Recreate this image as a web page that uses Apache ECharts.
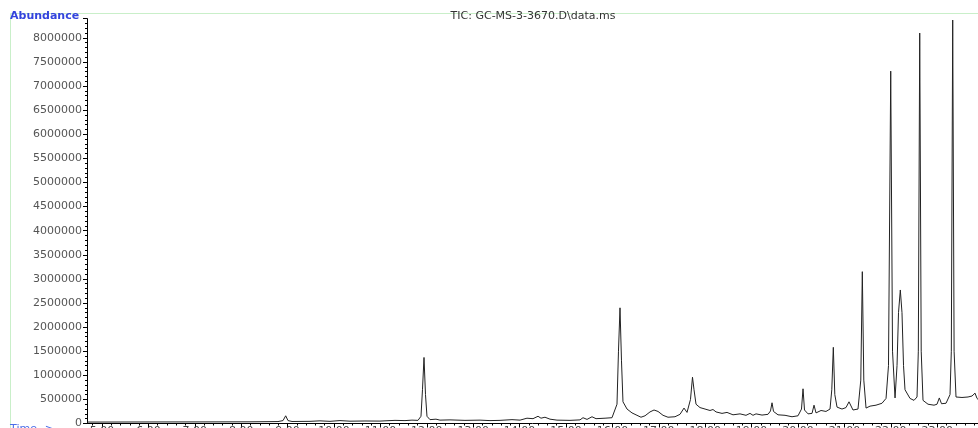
<!DOCTYPE html>
<html>
<head>
<meta charset="utf-8">
<script src="https://cdn.jsdelivr.net/npm/echarts@6/dist/echarts.min.js"></script>
<style>
  html, body { margin: 0; padding: 0; background: #fff; }
  #chart { width: 978px; height: 428px; }
</style>
</head>
<body>
<div id="chart"></div>
<script>
// retention time (min)
const times = [
  4.677, 4.957, 6.034, 7.112, 8.190, 8.793, 8.901, 8.959, 9.009, 9.095,
  9.483, 9.698, 9.914, 10.129, 10.345, 10.668, 10.991, 11.315, 11.530, 11.681,
  11.810, 11.875, 11.907, 11.940, 11.972, 12.004, 12.069, 12.198, 12.284, 12.500,
  12.823, 13.147, 13.362, 13.578, 13.836, 14.009, 14.159, 14.289, 14.397, 14.461,
  14.547, 14.655, 14.806, 15.086, 15.302, 15.366, 15.453, 15.560, 15.647, 15.841,
  15.991, 16.099, 16.131, 16.164, 16.196, 16.228, 16.315, 16.422, 16.530, 16.616,
  16.703, 16.810, 16.897, 16.983, 17.091, 17.198, 17.349, 17.457, 17.543, 17.608,
  17.683, 17.726, 17.759, 17.802, 17.888, 17.996, 18.103, 18.168, 18.233, 18.362,
  18.470, 18.599, 18.750, 18.879, 18.966, 19.030, 19.095, 19.224, 19.353, 19.407,
  19.440, 19.472, 19.569, 19.720, 19.871, 20.000, 20.075, 20.108, 20.140, 20.216,
  20.302, 20.345, 20.388, 20.496, 20.603, 20.690, 20.728, 20.761, 20.793, 20.841,
  20.948, 21.034, 21.099, 21.185, 21.293, 21.353, 21.386, 21.418, 21.466, 21.552,
  21.681, 21.810, 21.897, 21.950, 21.998, 22.037, 22.091, 22.134, 22.166, 22.205,
  22.241, 22.274, 22.306, 22.343, 22.414, 22.500, 22.565, 22.593, 22.623, 22.655,
  22.694, 22.802, 22.931, 22.996, 23.045, 23.093, 23.190, 23.276, 23.304, 23.334,
  23.364, 23.405, 23.534, 23.664, 23.750, 23.815, 23.858, 23.879
]
// TIC abundance
const abundance = [
  30000, 30000, 32000, 33000, 35000, 40000, 60000, 160000, 60000, 42000,
  45000, 55000, 45000, 60000, 48000, 52000, 50000, 65000, 60000, 70000,
  65000, 150000, 700000, 1370000, 600000, 150000, 80000, 90000, 70000, 75000,
  65000, 70000, 60000, 65000, 80000, 70000, 110000, 100000, 150000, 110000,
  130000, 90000, 70000, 65000, 75000, 120000, 85000, 140000, 100000, 110000,
  120000, 400000, 1500000, 2400000, 1300000, 450000, 300000, 220000, 170000, 130000,
  160000, 240000, 280000, 250000, 170000, 130000, 140000, 190000, 320000, 230000,
  500000, 960000, 700000, 400000, 330000, 300000, 270000, 290000, 240000, 210000,
  230000, 180000, 200000, 170000, 210000, 170000, 200000, 175000, 190000, 260000,
  430000, 250000, 180000, 170000, 140000, 160000, 300000, 720000, 280000, 200000,
  210000, 380000, 220000, 270000, 250000, 300000, 700000, 1580000, 600000, 340000,
  300000, 330000, 450000, 280000, 300000, 900000, 3150000, 900000, 320000, 360000,
  380000, 420000, 520000, 1200000, 7310000, 1500000, 530000, 1200000, 2300000, 2770000,
  2300000, 1200000, 700000, 660000, 520000, 480000, 550000, 1500000, 8100000, 1500000,
  480000, 400000, 380000, 400000, 530000, 410000, 420000, 600000, 1500000, 8370000,
  1500000, 550000, 540000, 550000, 570000, 630000, 520000, 500000
]
const xTickLabels = ['5.00', '6.00', '7.00', '8.00', '9.00', '10.00', '11.00', '12.00', '13.00', '14.00',
  '15.00', '16.00', '17.00', '18.00', '19.00', '20.00', '21.00', '22.00', '23.00']

let xMajor = xTickLabels.map(s => parseFloat(s))
let xMinor = []
for (let i = 24; i <= 119; i++) xMinor.push(i / 5)

let myChart = echarts.init(document.getElementById('chart'))
let font = 'DejaVu Sans'
let option = {
  animation: false,
  title: [
    {
      text: 'Abundance', left: 10, top: 11, padding: 0,
      textStyle: { color: '#3344dd', fontSize: 11, fontWeight: 'bold', fontFamily: font }
    },
    {
      text: 'TIC: GC-MS-3-3670.D\\data.ms', left: 533, top: 11, padding: 0, textAlign: 'center',
      textStyle: { color: '#333', fontSize: 11, fontWeight: 'normal', fontFamily: font }
    },
    {
      text: 'Time-->', left: 10, top: 424, padding: 0,
      textStyle: { color: '#4a6ee8', fontSize: 11, fontWeight: 'normal', fontFamily: font }
    }
  ],
  graphic: [
    {
      type: 'polyline',
      z: -1,
      shape: { points: [[10.5, 428], [10.5, 13.5], [978, 13.5]] },
      style: { fill: null, stroke: '#c9efc9', lineWidth: 1 }
    }
  ],
  grid: { left: 87, right: 0, top: 18.6, bottom: 4.5, outerBoundsMode: 'none', containLabel: false },
  xAxis: [
    {
      type: 'value',
      min: 4.677,
      max: 23.879,
      axisLine: { show: true, onZero: false, lineStyle: { color: '#000', width: 1 } },
      axisTick: { show: true, customValues: xMajor, length: 4, lineStyle: { color: '#000' } },
      axisLabel: {
        customValues: xMajor,
        formatter: v => xTickLabels[xMajor.indexOf(v)] || v.toFixed(2),
        color: '#444', fontSize: 11, fontFamily: font, margin: 2
      },
      splitLine: { show: false }
    },
    {
      type: 'value',
      min: 4.677,
      max: 23.879,
      position: 'bottom',
      axisLine: { show: false },
      axisTick: { show: true, customValues: xMinor, length: 2, lineStyle: { color: '#000' } },
      axisLabel: { show: false },
      splitLine: { show: false }
    }
  ],
  yAxis: {
    type: 'value',
    min: 0,
    max: 8400000,
    interval: 500000,
    axisLine: { show: true, lineStyle: { color: '#000', width: 1 } },
    axisTick: { show: true, length: 4, lineStyle: { color: '#000' } },
    minorTick: { show: true, splitNumber: 5, length: 2, lineStyle: { color: '#000' } },
    axisLabel: {
      showMaxLabel: false,
      formatter: v => String(v),
      color: '#555', fontSize: 11, fontFamily: font, margin: 5
    },
    splitLine: { show: false }
  },
  series: [
    {
      name: 'TIC',
      type: 'line',
      xAxisIndex: 0,
      data: times.map((t, i) => [t, abundance[i]]),
      showSymbol: false,
      smooth: false,
      lineStyle: { color: '#222', width: 1 }
    }
  ]
}
myChart.setOption(option)
</script>
</body>
</html>
